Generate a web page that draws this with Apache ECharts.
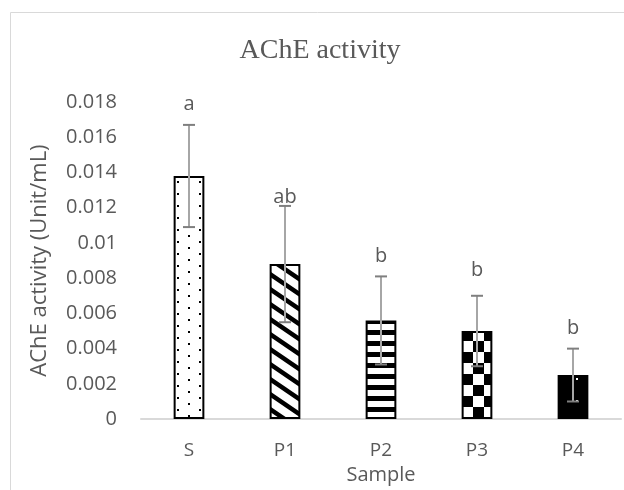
<!DOCTYPE html>
<html>
<head>
<meta charset="utf-8">
<script src="https://cdn.jsdelivr.net/npm/echarts@6/dist/echarts.min.js"></script>
<style>
  html, body { margin: 0; padding: 0; background: #fff; }
  #main { width: 624px; height: 490px; }
</style>
</head>
<body>
<div id="main"></div>
<script>
// data
var categories = ['S', 'P1', 'P2', 'P3', 'P4'];
var means = [0.0138, 0.0088, 0.0056, 0.0050, 0.0025];
var sds = [0.0029, 0.0033, 0.0025, 0.0020, 0.0015];
var letters = ['a', 'ab', 'b', 'b', 'b'];

// how far above each error cap its letter sits (px), as placed in the original
var letterGap = [21, 9, 20, 25, 20];

var FONT = 'Open Sans';
var GREY = '#595959';

// fill patterns, one per bar
function tile(w, h, draw) {
  var c = document.createElement('canvas');
  c.width = w; c.height = h;
  var ctx = c.getContext('2d');
  draw(ctx, w, h);
  return { image: c, repeat: 'repeat' };
}
var patterns = [
  // S: staggered black dots
  tile(22, 12, function (ctx) {
    ctx.fillStyle = '#fff'; ctx.fillRect(0, 0, 22, 12);
    ctx.fillStyle = '#000';
    ctx.fillRect(1, 1, 2, 2);
    ctx.fillRect(12, 7, 2, 2);
  }),
  // P1: wide stripes running down to the right
  tile(22, 15, function (ctx) {
    ctx.fillStyle = '#fff'; ctx.fillRect(0, 0, 22, 15);
    ctx.strokeStyle = '#000'; ctx.lineWidth = 4.5;
    ctx.beginPath();
    for (var k = -1; k <= 1; k++) {
      ctx.moveTo(-2, k * 15 - 2 * 15 / 22);
      ctx.lineTo(24, k * 15 + 15 + 2 * 15 / 22);
    }
    ctx.stroke();
  }),
  // P2: horizontal stripes
  tile(10, 11, function (ctx) {
    ctx.fillStyle = '#fff'; ctx.fillRect(0, 0, 10, 11);
    ctx.fillStyle = '#000'; ctx.fillRect(0, 0, 10, 5);
  }),
  // P3: checkerboard
  tile(22, 22, function (ctx) {
    ctx.fillStyle = '#fff'; ctx.fillRect(0, 0, 22, 22);
    ctx.fillStyle = '#000';
    ctx.fillRect(0, 0, 11, 11);
    ctx.fillRect(11, 11, 11, 11);
  }),
  // P4: black with sparse white dots
  tile(22, 22, function (ctx) {
    ctx.fillStyle = '#000'; ctx.fillRect(0, 0, 22, 22);
    ctx.fillStyle = '#fff'; ctx.fillRect(4, 4, 2, 2);
  })
];

var chart = echarts.init(document.getElementById('main'));

var barData = means.map(function (v, i) {
  return { value: v, itemStyle: { color: patterns[i] } };
});

chart.setOption({
  animation: false,
  graphic: [{
    type: 'rect',
    shape: { x: 10.5, y: 12.5, width: 640, height: 500 },
    style: { fill: 'none', stroke: '#d9d9d9', lineWidth: 1 },
    z: -1
  }, {
    // chart title
    type: 'text',
    x: 320,
    y: 51,
    style: {
      text: 'AChE activity',
      align: 'center',
      verticalAlign: 'middle',
      fontFamily: 'Liberation Serif',
      fontSize: 28,
      fill: GREY
    }
  }],
  grid: { left: 141, right: 3, top: 102, bottom: 59 },
  xAxis: {
    type: 'category',
    data: categories,
    name: 'Sample',
    nameLocation: 'middle',
    nameGap: 36,
    nameTextStyle: { fontFamily: FONT, fontSize: 20, color: GREY },
    axisLine: { lineStyle: { color: '#d9d9d9', width: 2 } },
    axisTick: { show: false },
    axisLabel: { fontFamily: FONT, fontSize: 19, color: GREY, margin: 22 }
  },
  yAxis: {
    type: 'value',
    min: 0,
    max: 0.018,
    interval: 0.002,
    name: 'AChE activity (Unit/mL)',
    nameLocation: 'middle',
    nameGap: 90,
    nameTextStyle: { fontFamily: FONT, fontSize: 22, color: GREY },
    axisLine: { show: false },
    axisTick: { show: false },
    splitLine: { show: false },
    axisLabel: {
      fontFamily: FONT, fontSize: 20, color: GREY, margin: 24,
      formatter: function (v) { return String(+v.toFixed(3)); }
    }
  },
  series: [{
    type: 'bar',
    data: barData,
    barWidth: '32%',
    itemStyle: { borderColor: '#000', borderWidth: 2 }
  }, {
    // error bars and significance letters
    type: 'custom',
    z: 5,
    data: means.map(function (v, i) { return [i, v, sds[i]]; }),
    renderItem: function (params, api) {
      var i = api.value(0);
      var m = api.value(1);
      var sd = api.value(2);
      var top = api.coord([i, m + sd]);
      var bot = api.coord([i, m - sd]);
      var hw = 6;
      return {
        type: 'group',
        children: [{
          type: 'line',
          shape: { x1: top[0], y1: top[1], x2: bot[0], y2: bot[1] },
          style: { stroke: '#a6a6a6', lineWidth: 2 }
        }, {
          type: 'line',
          shape: { x1: top[0] - hw, y1: top[1], x2: top[0] + hw, y2: top[1] },
          style: { stroke: '#7f7f7f', lineWidth: 2 }
        }, {
          type: 'line',
          shape: { x1: bot[0] - hw, y1: bot[1], x2: bot[0] + hw, y2: bot[1] },
          style: { stroke: '#7f7f7f', lineWidth: 2 }
        }, {
          type: 'text',
          x: top[0],
          y: top[1] - letterGap[params.dataIndex],
          style: {
            text: letters[params.dataIndex],
            align: 'center',
            verticalAlign: 'middle',
            fontFamily: FONT,
            fontSize: 20,
            fill: GREY
          }
        }]
      };
    }
  }]
});
</script>
</body>
</html>
